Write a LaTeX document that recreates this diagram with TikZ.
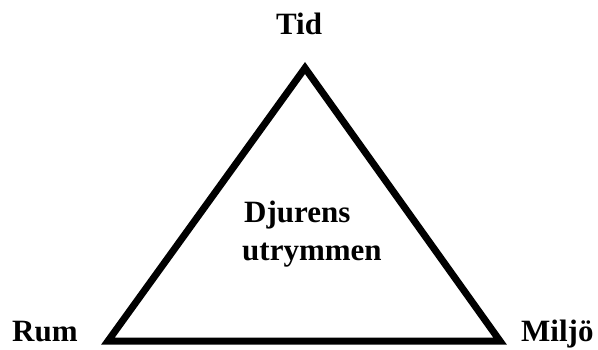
\documentclass[tikz,border=0pt]{standalone}
\usepackage{fontspec}
\setmainfont{Liberation Serif}
\tikzset{lbl/.style={inner sep=0pt,font=\fontsize{31}{37}\selectfont\bfseries},
edge/.style={line width=7pt,line join=miter}}
\begin{document}
\begin{tikzpicture}[x=1pt,y=1pt]
\useasboundingbox (0,0) rectangle (598,349);
\coordinate (A) at (305,281);
\coordinate (B) at (108,8);
\coordinate (C) at (500,8);
\draw[edge] (A) -- (B) -- (C) -- cycle;
\node[lbl,anchor=base] (tid) at (299,314) {Tid};
\node[lbl,anchor=base west] (rum) at (12,8) {Rum};
\node[lbl,anchor=base west] (milj) at (521,8) {Miljö};
\node[lbl,anchor=base west] (dj) at (244,127) {Djurens};
\node[lbl,anchor=base west] (ut) at (242,89) {utrymmen};
\end{tikzpicture}
\end{document}
